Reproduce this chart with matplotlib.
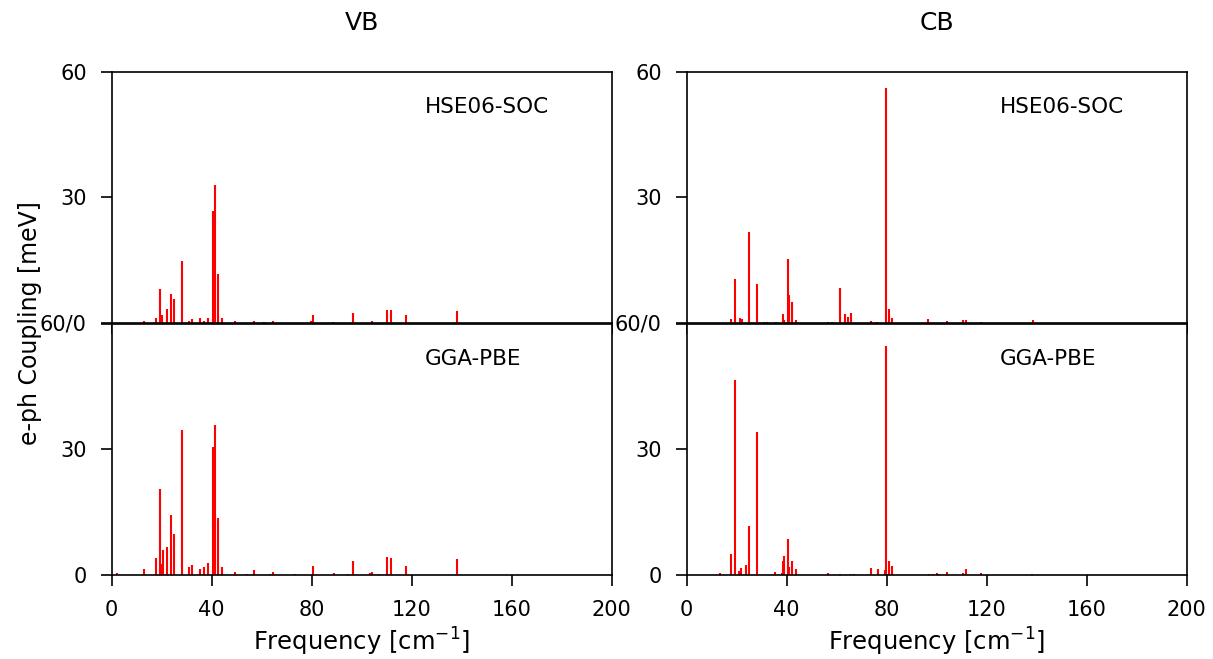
import matplotlib.pyplot as plt

# VB, HSE06-SOC (frequency cm^-1, coupling meV)
vb_hse_f = [13.0, 17.7, 19.3, 20.2, 22.1, 23.7, 24.8, 28.1, 30.9, 32.0, 35.2, 36.9, 38.4,
            40.6, 41.3, 42.4, 44.0, 49.3, 56.9, 61.0, 64.5,
            79.7, 80.6, 88.6, 96.6, 104.2, 110.1, 111.8, 117.9, 138.0]
vb_hse_g = [0.5, 1.2, 8.1, 1.8, 3.4, 7.0, 5.8, 14.8, 0.5, 0.9, 1.2, 0.5, 1.2,
            26.8, 33.0, 11.8, 1.2, 0.5, 0.5, 0.2, 0.5,
            0.5, 2.0, 0.2, 2.4, 0.5, 3.1, 3.1, 2.0, 2.8]

# VB, GGA-PBE
vb_pbe_f = [2.0, 13.0, 17.7, 19.3, 19.9, 20.5, 22.1, 23.7, 24.8, 28.1, 30.9, 32.0, 35.2,
            36.9, 38.4, 40.6, 41.3, 42.4, 44.0, 49.3, 54.3, 56.9, 63.5, 64.5, 73.5,
            80.6, 89.0, 94.5, 96.6, 103.4, 104.2, 106.9, 110.1, 111.8, 117.9, 138.0]
vb_pbe_g = [0.4, 1.4, 4.0, 20.5, 2.6, 6.0, 6.6, 14.2, 9.8, 34.5, 1.8, 2.4, 1.5,
            1.8, 2.8, 30.6, 35.7, 13.7, 1.8, 0.8, 0.2, 1.1, 0.3, 0.6, 0.2,
            2.2, 0.5, 0.2, 3.3, 0.5, 0.7, 0.2, 4.4, 4.0, 2.2, 3.7]

# CB, HSE06-SOC
cb_hse_f = [17.7, 19.5, 21.5, 22.1, 24.8, 28.1, 31.0, 32.3, 35.6, 38.4, 39.1, 40.5, 41.1,
            42.2, 43.9, 56.7, 58.0, 61.2, 63.3, 64.4, 65.6, 73.7, 76.3, 79.7, 80.8,
            82.0, 96.6, 104.1, 110.5, 111.8, 117.7, 138.4]
cb_hse_g = [0.9, 10.6, 1.2, 0.9, 21.6, 9.3, 0.2, 0.2, 0.2, 2.1, 0.6, 15.2, 6.6,
            5.0, 0.8, 0.2, 0.2, 8.4, 2.1, 1.4, 2.4, 0.5, 0.2, 56.1, 3.4,
            1.2, 1.0, 0.5, 0.8, 0.8, 0.3, 0.6]

# CB, GGA-PBE
cb_pbe_f = [13.3, 17.7, 19.3, 21.1, 21.7, 23.7, 24.8, 28.0, 35.3, 38.2, 38.4, 38.9, 40.5,
            41.1, 42.2, 43.9, 56.7, 61.3, 65.6, 66.8, 73.7, 76.5, 79.2, 79.6, 80.8,
            82.0, 96.8, 98.5, 100.0, 101.0, 104.0, 110.5, 111.7, 117.7, 138.3]
cb_pbe_g = [0.5, 4.9, 46.6, 1.0, 1.7, 2.4, 11.8, 34.1, 0.8, 0.5, 3.3, 4.6, 8.5,
            1.9, 3.3, 1.4, 0.5, 0.2, 0.2, 0.2, 1.7, 1.4, 1.1, 54.7, 3.3,
            2.1, 0.2, 0.2, 0.5, 0.3, 0.8, 0.5, 1.4, 0.5, 0.2]

columns = ["VB", "CB"]
methods = ["HSE06-SOC", "GGA-PBE"]
data = {("VB", 0): (vb_hse_f, vb_hse_g), ("VB", 1): (vb_pbe_f, vb_pbe_g),
        ("CB", 0): (cb_hse_f, cb_hse_g), ("CB", 1): (cb_pbe_f, cb_pbe_g)}

fig = plt.figure(figsize=(12.13, 6.59), dpi=100)

lefts = [0.0921, 0.5661]
w = 0.4122
bottoms = [0.5099, 0.1275]
h = 0.3815

for c, col in enumerate(columns):
    for r in range(2):
        ax = fig.add_axes([lefts[c], bottoms[r], w, h])
        f, g = data[(col, r)]
        ax.vlines(f, 0, g, color="red", lw=1.5)
        ax.set_xlim(0, 200)
        ax.set_ylim(0, 60)
        ax.set_xticks([0, 40, 80, 120, 160, 200])
        ax.set_yticks([0, 30, 60])
        ax.tick_params(direction="out", length=8, width=1.2, pad=10, labelsize=15)
        for s in ax.spines.values():
            s.set_linewidth(1.2)
        ax.text(0.627, 0.86, methods[r], transform=ax.transAxes,
                fontsize=15.5, va="center", ha="left")
        if r == 0:
            ax.set_yticklabels(["60/0", "30", "60"])
            ax.tick_params(labelbottom=False)
            ax.set_title(col, fontsize=18, pad=30)
        else:
            ax.set_yticklabels(["0", "30", ""])
            ax.set_xlabel("Frequency [cm$^{-1}$]", fontsize=17.5, labelpad=4)

fig.text(0.025, 0.51, "e-ph Coupling [meV]", rotation=90, fontsize=17,
         va="center", ha="center")

fig.savefig("out.png", dpi=100)
